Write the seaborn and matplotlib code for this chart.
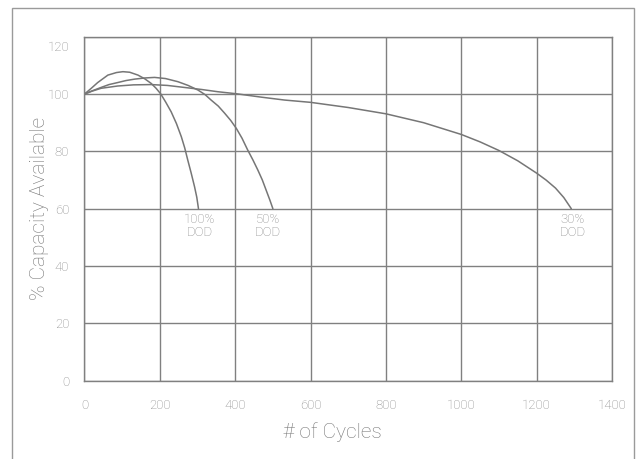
import numpy as np
import pandas as pd
import seaborn as sns
import matplotlib.pyplot as plt
from matplotlib.patches import Rectangle
from matplotlib.transforms import ScaledTranslation

# curvas de capacidad
ciclos_100 = [0, 18, 35, 62, 85, 102, 120, 142, 160, 177, 190, 202, 215, 230, 244, 257, 266, 274, 283, 292, 298, 302.5]
cap_100 = [100, 102.0, 104.0, 106.6, 107.5, 107.8, 107.6, 106.6, 105.3, 103.7, 102.0, 100.1, 97.3, 93.8, 89.7, 85.1, 81.2, 77.0, 72.5, 67.7, 64.0, 60.0]

ciclos_50 = [0, 20, 44, 65, 88, 110, 133, 160, 186, 215, 248, 275, 301, 320, 336, 355, 372, 388, 403, 418, 433, 447, 460, 472, 482, 492, 500]
cap_50 = [100, 101.1, 102.3, 103.3, 104.0, 104.7, 105.2, 105.6, 105.8, 105.4, 104.3, 103.0, 101.4, 99.8, 97.9, 95.8, 93.3, 90.8, 88.0, 84.6, 80.5, 77.0, 73.5, 70.0, 66.5, 63.0, 60.0]

ciclos_30 = [0, 20, 44, 88, 130, 177, 220, 265, 310, 354, 403, 470, 531, 600, 700, 800, 900, 1000, 1050, 1100, 1150, 1200, 1225, 1250, 1272, 1292]
cap_30 = [100, 101.0, 102.0, 102.8, 103.2, 103.3, 103.0, 102.3, 101.6, 100.8, 100.1, 98.9, 97.9, 97.1, 95.3, 93.1, 90.0, 85.9, 83.3, 80.3, 76.7, 72.4, 70.0, 67.2, 63.9, 60.0]

etiquetas = ["100%\nDOD", "50%\nDOD", "30%\nDOD"]
etiqueta_x = [305, 487, 1295]

xticks = [0, 200, 400, 600, 800, 1000, 1200, 1400]
yticks = [0, 20, 40, 60, 80, 100, 120]

sns.set_theme(style="white")
plt.rcParams['font.family'] = ['Roboto', 'DejaVu Sans']

fig = plt.figure(figsize=(6.41, 4.59), dpi=100)
ax = fig.add_axes([84.5/641, 1-380.7/459, 527.5/641, 344/459])

gris = "#767676"
for xs, ys in [(ciclos_100, cap_100), (ciclos_50, cap_50), (ciclos_30, cap_30)]:
    df = pd.DataFrame({"ciclos": xs, "cap": ys})
    sns.lineplot(data=df, x="ciclos", y="cap", ax=ax, color=gris, linewidth=1.1,
                 sort=False, estimator=None)

for txt, xv in zip(etiquetas, etiqueta_x):
    ax.text(xv, 58.5, txt, ha="center", va="top", fontsize=9.5, color="#858585",
            fontweight="light", linespacing=1.05)

ax.set_xlim(0, 1400)
ax.set_ylim(0, 120)
ax.set_xticks(xticks)
ax.set_yticks(yticks)
ax.grid(True, color="#808080", linewidth=1.0)
for s in ax.spines.values():
    s.set_color("#808080")
    s.set_linewidth(1.0)
ax.tick_params(axis="both", length=0, labelsize=9.5, labelcolor="#858585")
ax.tick_params(axis="x", pad=13)
ax.tick_params(axis="y", pad=11)
for lab in ax.get_xticklabels() + ax.get_yticklabels():
    lab.set_fontweight("light")
# la etiqueta de 120 aparece un poco mas abajo en el original
top = ax.get_yticklabels()[-1]
top.set_transform(top.get_transform() + ScaledTranslation(0, -9/100, fig.dpi_scale_trans))

ax.set_xlabel("# of Cycles", fontsize=15, color="#767676", fontweight="light")
ax.set_ylabel("% Capacity Available", fontsize=15, color="#767676", fontweight="light")
ax.xaxis.set_label_coords((332-84.5)/527.5, (380.7-432)/344, transform=ax.transAxes)
ax.yaxis.set_label_coords((40-84.5)/527.5, 0.5, transform=ax.transAxes)
ax.xaxis.label.set_va("center")
ax.yaxis.label.set_va("center")

# marco exterior
marco = Rectangle((12/641, -0.05), (634-12)/641, 1.05 - 8/459, transform=fig.transFigure,
                  fill=False, edgecolor="#9a9a9a", linewidth=1.0)
fig.patches.append(marco)

plt.savefig("out.png", dpi=100)
plt.close()
